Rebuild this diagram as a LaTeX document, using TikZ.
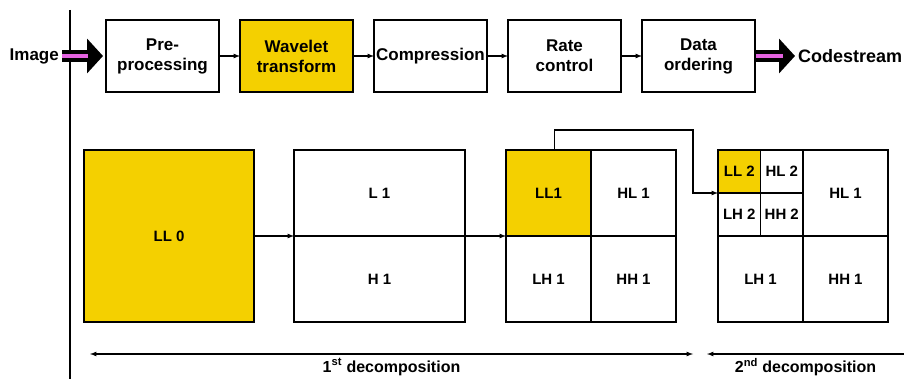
\documentclass[tikz,border=0pt]{standalone}
\usepackage{fontspec}
\setmainfont{Liberation Sans}
\usepackage{xcolor}
\usepackage{tikz}
\usetikzlibrary{positioning, arrows, arrows.meta}

\definecolor{wyellow}{HTML}{F4D000}
\definecolor{streampink}{HTML}{E463E0}

\begin{document}
\begin{tikzpicture}[x=1pt, y=-1pt,
    stage/.style={rectangle, draw, line width=1.4pt, minimum width=113pt, minimum height=72pt, align=center, inner sep=1pt, outer sep=0pt, font=\fontsize{17}{20}\selectfont\bfseries},
    band/.style={rectangle, draw, line width=1.4pt, inner sep=1pt, outer sep=0pt, font=\fontsize{15}{17}\selectfont\bfseries},
    cell/.style={band, minimum width=85pt, minimum height=86pt},
    subcell/.style={band, minimum width=42.5pt, minimum height=43pt},
    tag/.style={inner sep=1pt, font=\fontsize{17}{20}\selectfont\bfseries},
    arrow/.style={-latex, line width=1.2pt},
    bigarrow/.style={line width=12pt, -{Triangle[width=34pt, length=16pt]}},
    stripe/.style={line width=4.5pt, streampink}
]
\useasboundingbox (0,0) rectangle (904,379);

% divider
\coordinate (railtop) at (70,10);
\coordinate (railbottom) at (70,379);
\draw[line width=1.2pt] (railtop) -- (railbottom);

% coding chain
\node[tag, anchor=east] (image) at (60,56) {Image};
\node[stage] (pre) at (162.5,56) {Pre-\\processing};
\node[stage, fill=wyellow, right=21pt of pre] (wavelet) {Wavelet\\transform};
\node[stage, right=21pt of wavelet] (compress) {Compression};
\node[stage, right=21pt of compress] (rate) {Rate\\control};
\node[stage, right=21pt of rate] (order) {Data\\ordering};
\node[tag, anchor=west, font=\fontsize{18}{20}\selectfont\bfseries] (stream) at (797,56) {Codestream};

\draw[bigarrow, shorten <=2pt, shorten >=3pt] (image.east) -- (pre.west);
\draw[stripe, shorten <=2pt, shorten >=18pt] (image.east) -- (pre.west);
\draw[bigarrow, shorten <=1pt, shorten >=2pt] (order.east) -- (stream.west);
\draw[stripe, shorten <=1pt, shorten >=14pt] (order.east) -- (stream.west);

\foreach \source/\dest in {pre/wavelet, wavelet/compress, compress/rate, rate/order}
    \draw[arrow] (\source) -- (\dest);

% decomposition levels
\node[band, fill=wyellow, minimum width=170pt, minimum height=172pt] (ll0) at (169,236) {LL 0};

\node[band, minimum width=171pt, minimum height=86pt, anchor=south west] (l1) at (294,236) {L 1};
\node[band, minimum width=171pt, minimum height=86pt, below=0pt of l1] (h1) {H 1};

\node[cell, fill=wyellow, anchor=south east] (ll1) at (591,236) {LL1};
\node[cell, right=0pt of ll1] (hl1) {HL 1};
\node[cell, below=0pt of ll1] (lh1) {LH 1};
\node[cell, below=0pt of hl1] (hh1) {HH 1};

\node[cell, anchor=south west] (hl1b) at (803,236) {HL 1};
\node[cell, below=0pt of hl1b] (hh1b) {HH 1};
\node[cell, left=0pt of hh1b] (lh1b) {LH 1};
\node[subcell, fill=wyellow, anchor=north west] (ll2) at (718,150) {LL 2};
\node[subcell, right=0pt of ll2] (hl2) {HL 2};
\node[subcell, below=0pt of ll2] (lh2) {LH 2};
\node[subcell, below=0pt of hl2] (hh2) {HH 2};

\draw[arrow] (ll0.east) -- (l1.south west);
\draw[arrow] (l1.south east) -- (ll1.south west);
\draw[arrow] ([xshift=6pt]ll1.north) -- ++(0,-20) -| ([xshift=-25pt]ll2.south west) -- (ll2.south west);

% level spans
\coordinate (firstleft) at (90,354);
\coordinate (firstright) at (693,354);
\coordinate (secondleft) at (707,354);
\coordinate (secondright) at (904,354);
\draw[latex-latex, line width=1.2pt] (firstleft) -- node[tag, below=3pt, font=\fontsize{16}{18}\selectfont\bfseries] (firstspan) {1\textsuperscript{st} decomposition} (firstright);
\draw[latex-, line width=1.2pt] (secondleft) -- node[tag, below=3pt, font=\fontsize{16}{18}\selectfont\bfseries] (secondspan) {2\textsuperscript{nd} decomposition} (secondright);

\end{tikzpicture}
\end{document}
